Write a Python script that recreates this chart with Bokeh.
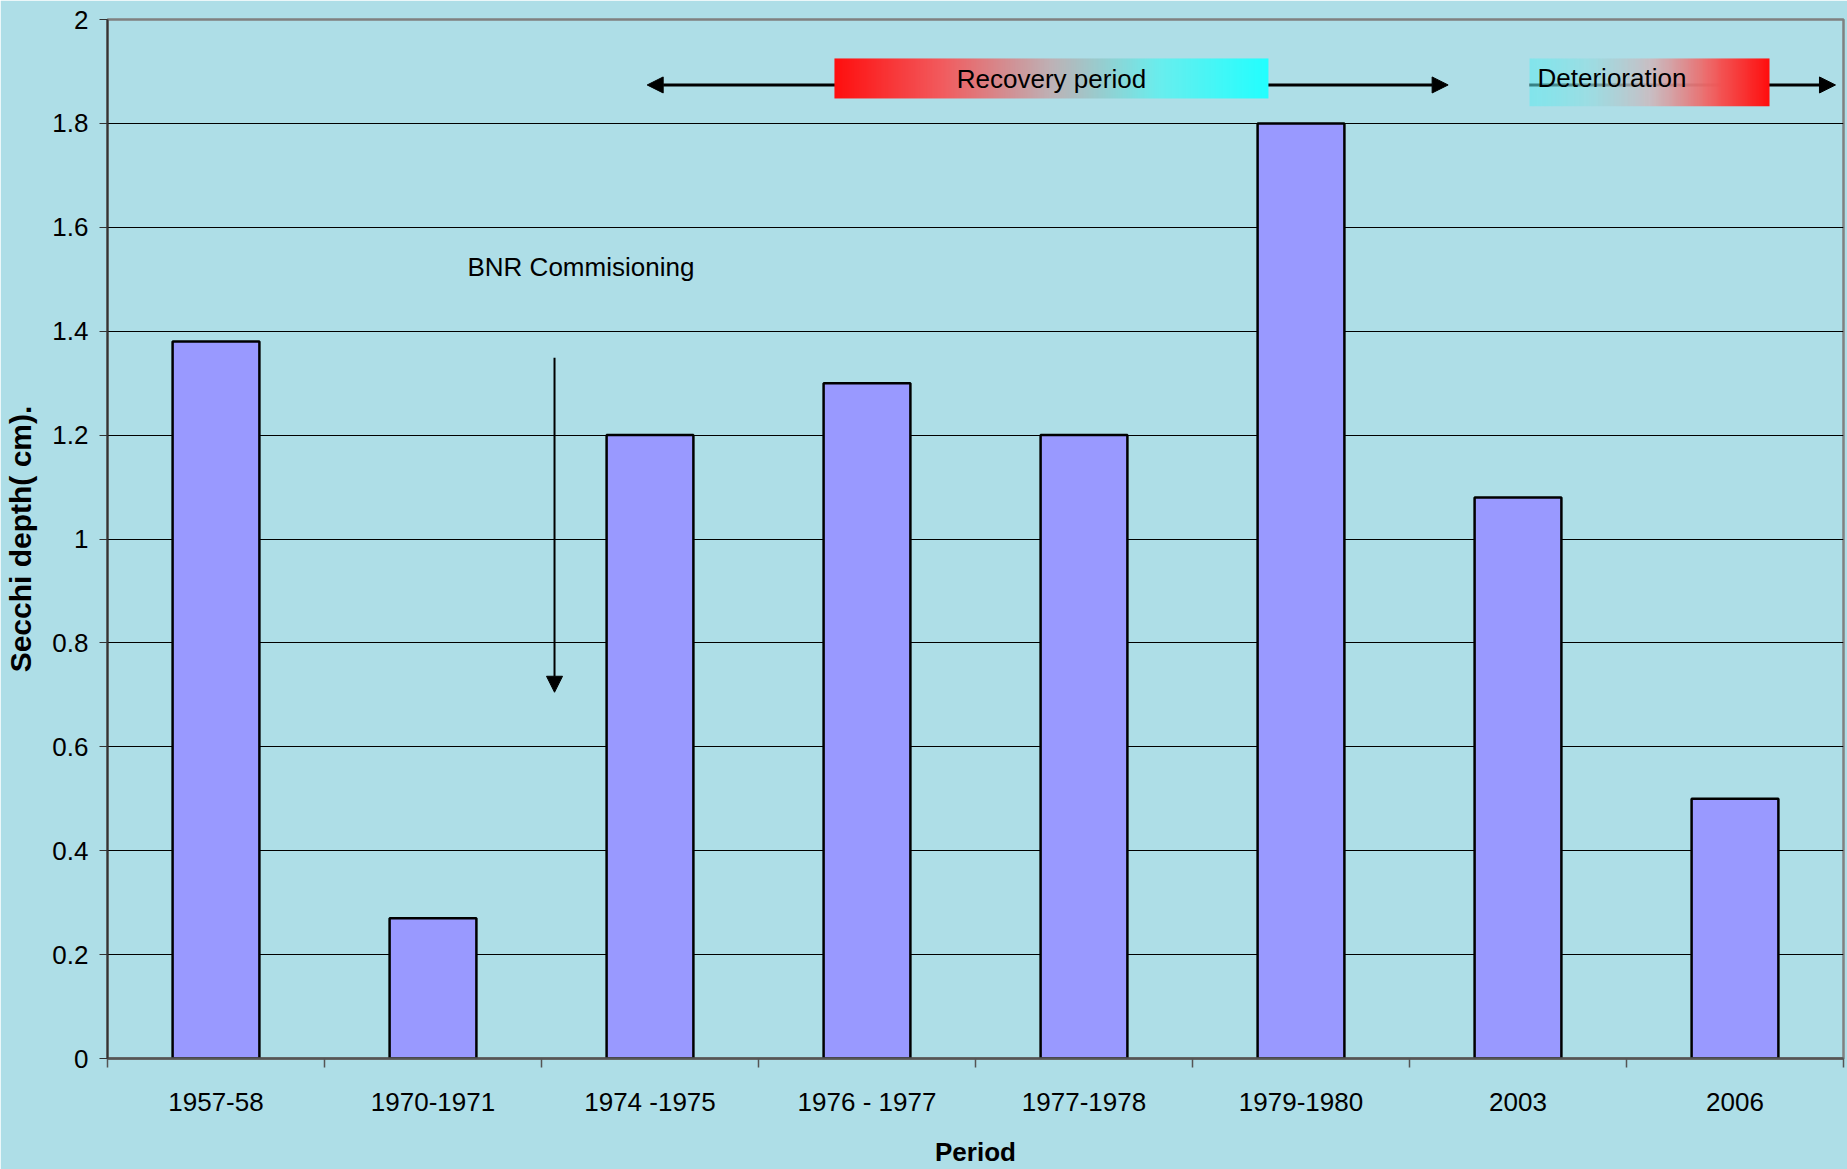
import numpy as np
from bokeh.plotting import figure
from bokeh.models import FixedTicker, Arrow, NormalHead, Label, Range1d
from bokeh.embed import file_html
from bokeh.resources import INLINE

# Secchi depth by sampling period
periods = ["1957-58", "1970-1971", "1974 -1975", "1976 - 1977",
           "1977-1978", "1979-1980", "2003", "2006"]
secchi_depth = [1.38, 0.27, 1.2, 1.3, 1.2, 1.8, 1.08, 0.5]

y_ticks = [0, 0.2, 0.4, 0.6, 0.8, 1, 1.2, 1.4, 1.6, 1.8, 2]
y_tick_labels = ["0", "0.2", "0.4", "0.6", "0.8", "1", "1.2", "1.4", "1.6", "1.8", "2"]

BG = "#aedee7"
FONT = "Liberation Sans"

n = len(periods)
centers = [i + 0.5 for i in range(n)]
bounds = list(range(n + 1))

p = figure(width=1847, height=1169, x_range=Range1d(0, n), y_range=Range1d(0, 2),
           output_backend="svg", toolbar_location=None,
           min_border_left=107, min_border_right=4, min_border_top=19, min_border_bottom=109,
           background_fill_color=BG, border_fill_color=BG)

p.outline_line_color = "#808080"
p.outline_line_width = 2.5

# grid
p.xgrid.visible = False
p.ygrid.ticker = FixedTicker(ticks=y_ticks)
p.ygrid.grid_line_color = "black"
p.ygrid.grid_line_width = 1

# bars
p.vbar(x=centers, top=secchi_depth, width=0.4, fill_color="#9999ff",
       line_color="black", line_width=2.5)

# x axis: labels centred on categories, tick marks on the boundaries
xa = p.xaxis[0]
xa.ticker = FixedTicker(ticks=centers, minor_ticks=bounds)
xa.major_label_overrides = {c: lab for c, lab in zip(centers, periods)}
xa.major_tick_out = 0
xa.major_tick_in = 0
xa.minor_tick_out = 9
xa.minor_tick_in = 0
xa.minor_tick_line_color = "#555555"
xa.minor_tick_line_width = 1.5
xa.axis_line_color = "#555555"
xa.axis_line_width = 2.5
xa.major_label_standoff = 19
xa.major_label_text_font = FONT
xa.major_label_text_font_size = "26px"
xa.major_label_text_color = "black"
xa.axis_label = "Period"
xa.axis_label_text_font = FONT
xa.axis_label_text_font_size = "26px"
xa.axis_label_text_font_style = "bold"
xa.axis_label_text_color = "black"
xa.axis_label_standoff = 17

ya = p.yaxis[0]
ya.ticker = FixedTicker(ticks=y_ticks)
ya.major_label_overrides = dict(zip(y_ticks, y_tick_labels))
ya.major_tick_out = 8
ya.major_tick_in = 0
ya.minor_tick_out = 0
ya.minor_tick_in = 0
ya.major_tick_line_color = "#333333"
ya.axis_line_color = "#333333"
ya.axis_line_width = 2
ya.major_label_standoff = 11
ya.major_label_text_font = FONT
ya.major_label_text_font_size = "26px"
ya.major_label_text_color = "black"
ya.axis_label = "Secchi depth( cm)."
ya.axis_label_text_font = FONT
ya.axis_label_text_font_size = "30px"
ya.axis_label_text_font_style = "bold"
ya.axis_label_text_color = "black"
ya.axis_label_standoff = 12


def gradient_image(stops, alphas, width=256):
    """Horizontal RGBA gradient from colour stops [(t, (r, g, b)), ...]."""
    t = np.linspace(0, 1, width)
    ts = [s[0] for s in stops]
    rgb = [np.interp(t, ts, [s[1][k] for s in stops]) for k in range(3)]
    a = np.interp(t, [s[0] for s in alphas], [s[1] for s in alphas])
    img = np.zeros((2, width), dtype=np.uint32)
    view = img.view(dtype=np.uint8).reshape((2, width, 4))
    for row in range(2):
        view[row, :, 0] = rgb[0].astype(np.uint8)
        view[row, :, 1] = rgb[1].astype(np.uint8)
        view[row, :, 2] = rgb[2].astype(np.uint8)
        view[row, :, 3] = (a * 255).astype(np.uint8)
    return img


# period arrows (drawn beneath the banners)
head = dict(size=16, fill_color="black", line_color="black")
p.add_layout(Arrow(start=NormalHead(**head), end=NormalHead(**head),
                   x_start=2.487, y_start=1.874, x_end=6.178, y_end=1.874,
                   line_color="black", line_width=3, level="underlay"))
p.add_layout(Arrow(end=NormalHead(**head),
                   x_start=6.553, y_start=1.874, x_end=7.963, y_end=1.874,
                   line_color="black", line_width=3, level="underlay"))

# "Recovery period" banner: red to cyan
rec = gradient_image([(0, (255, 15, 15)), (0.25, (242, 92, 95)), (0.5, (190, 178, 182)),
                      (0.75, (105, 238, 238)), (1, (35, 255, 255))],
                     [(0, 1.0), (1, 1.0)])
p.image_rgba(image=[rec], x=3.350, y=1.848, dw=2.0, dh=0.077)
p.add_layout(Label(x=4.35, y=1.885, text="Recovery period", text_align="center",
                   text_baseline="middle", text_font=FONT, text_font_size="26px",
                   text_color="black"))

# "Deterioration" banner: cyan to red, partly see-through on the left
det = gradient_image([(0, (95, 235, 240)), (0.25, (150, 220, 225)), (0.5, (205, 185, 190)),
                      (0.75, (240, 100, 100)), (1, (255, 15, 15))],
                     [(0, 0.55), (0.5, 0.85), (0.8, 1.0), (1, 1.0)])
p.image_rgba(image=[det], x=6.553, y=1.833, dw=1.106, dh=0.092)
p.add_layout(Label(x=6.59, y=1.887, text="Deterioration", text_align="left",
                   text_baseline="middle", text_font=FONT, text_font_size="26px",
                   text_color="black"))

# BNR commissioning marker
p.add_layout(Label(x=1.659, y=1.524, text="BNR Commisioning", text_align="left",
                   text_baseline="middle", text_font=FONT, text_font_size="26px",
                   text_color="black"))
p.add_layout(Arrow(end=NormalHead(size=16, fill_color="black", line_color="black"),
                   x_start=2.060, y_start=1.349, x_end=2.060, y_end=0.705,
                   line_color="black", line_width=2))

open("out.html", "w").write(file_html(p, INLINE))
